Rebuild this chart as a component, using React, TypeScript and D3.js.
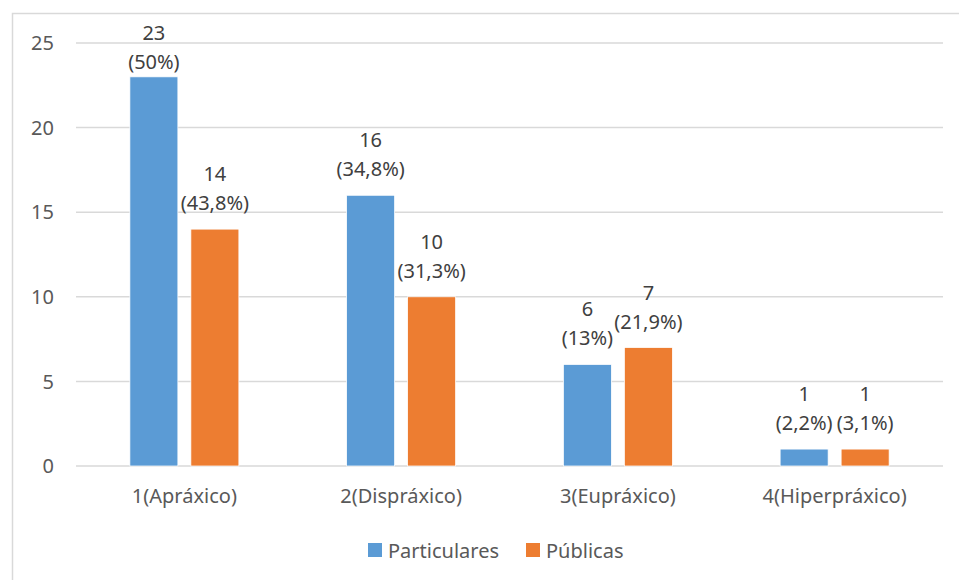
import { useEffect, useRef } from "react";
import * as d3 from "d3";

const CATEGORIES = ["1(Apráxico)", "2(Dispráxico)", "3(Eupráxico)", "4(Hiperpráxico)"];
const SERIES = ["Particulares", "Públicas"];
const PARTICULARES = [23, 16, 6, 1];
const PUBLICAS = [14, 10, 7, 1];
const PCT_PARTICULARES = ["50%", "34,8%", "13%", "2,2%"];
const PCT_PUBLICAS = ["43,8%", "31,3%", "21,9%", "3,1%"];
const Y_TICKS = [0, 5, 10, 15, 20, 25];

const COLORS: Record<string, string> = {
  Particulares: "#5B9BD5",
  Públicas: "#ED7D31",
};

const FONT = "'Noto Sans', 'Open Sans', sans-serif";

export default function App() {
  const svgRef = useRef<SVGSVGElement>(null);
  const width = 959;
  const height = 580;

  useEffect(() => {
    if (!svgRef.current) return;
    const svg = d3.select(svgRef.current);
    svg.selectAll("*").remove();

    const plot = { left: 76, right: 943, top: 43, bottom: 466 };

    // chart frame
    svg
      .append("rect")
      .attr("x", 12.5)
      .attr("y", 13.5)
      .attr("width", width)
      .attr("height", height)
      .attr("fill", "#fff")
      .attr("stroke", "#d9d9d9")
      .attr("stroke-width", 1.5);

    const y = d3.scaleLinear().domain([0, 25]).range([plot.bottom, plot.top]);
    const x0 = d3.scaleBand<string>().domain(CATEGORIES).range([plot.left, plot.right]).padding(0);

    // gridlines
    svg
      .append("g")
      .selectAll("line")
      .data(Y_TICKS)
      .join("line")
      .attr("x1", plot.left)
      .attr("x2", plot.right)
      .attr("y1", (d) => y(d))
      .attr("y2", (d) => y(d))
      .attr("stroke", "#d9d9d9")
      .attr("stroke-width", 1.5);

    // y tick labels
    svg
      .append("g")
      .selectAll("text")
      .data(Y_TICKS)
      .join("text")
      .attr("x", 54)
      .attr("y", (d) => y(d))
      .attr("dy", "0.36em")
      .attr("text-anchor", "end")
      .attr("font-family", FONT)
      .attr("font-size", 20)
      .attr("fill", "#595959")
      .text((d) => d);

    // x labels
    svg
      .append("g")
      .selectAll("text")
      .data(CATEGORIES)
      .join("text")
      .attr("x", (d) => (x0(d) ?? 0) + x0.bandwidth() / 2)
      .attr("y", 503)
      .attr("text-anchor", "middle")
      .attr("font-family", FONT)
      .attr("font-size", 20)
      .attr("fill", "#595959")
      .text((d) => d);

    const groupW = 109;
    const x1 = d3.scaleBand<string>().domain(SERIES).range([0, groupW]).paddingInner(0.213).paddingOuter(0);

    const rows = CATEGORIES.flatMap((c, i) => [
      { cat: c, series: SERIES[0], value: PARTICULARES[i], pct: PCT_PARTICULARES[i] },
      { cat: c, series: SERIES[1], value: PUBLICAS[i], pct: PCT_PUBLICAS[i] },
    ]);

    const barX = (d: (typeof rows)[number]) =>
      (x0(d.cat) ?? 0) + x0.bandwidth() / 2 - groupW / 2 + (x1(d.series) ?? 0);

    svg
      .append("g")
      .selectAll("rect")
      .data(rows)
      .join("rect")
      .attr("x", barX)
      .attr("y", (d) => y(d.value))
      .attr("width", x1.bandwidth())
      .attr("height", (d) => y(0) - y(d.value))
      .attr("fill", (d) => COLORS[d.series])
      .attr("stroke", "#fff")
      .attr("stroke-width", 0.75);

    // data labels (two lines), kept inside the chart area
    const labels = svg.append("g").attr("font-family", FONT).attr("font-size", 20).attr("fill", "#404040");
    rows.forEach((d) => {
      const cx = barX(d) + x1.bandwidth() / 2;
      let pctBase = y(d.value) - 19;
      if (pctBase - 29 < 40) pctBase = 40 + 29;
      labels
        .append("text")
        .attr("x", cx)
        .attr("y", pctBase - 29)
        .attr("text-anchor", "middle")
        .text(d.value);
      labels
        .append("text")
        .attr("x", cx)
        .attr("y", pctBase)
        .attr("text-anchor", "middle")
        .text(`(${d.pct})`);
    });

    // legend
    const legend = svg.append("g").attr("font-family", FONT).attr("font-size", 20).attr("fill", "#595959");
    const legendX = [368, 526];
    SERIES.forEach((s, i) => {
      legend
        .append("rect")
        .attr("x", legendX[i])
        .attr("y", 543)
        .attr("width", 14)
        .attr("height", 14)
        .attr("fill", COLORS[s]);
      legend
        .append("text")
        .attr("x", legendX[i] + 20)
        .attr("y", 558)
        .text(s);
    });
  }, []);

  return (
    <>
      <style>{`body{margin:0}`}</style>
      <svg ref={svgRef} width={width} height={height} style={{ display: "block" }} />
    </>
  );
}
